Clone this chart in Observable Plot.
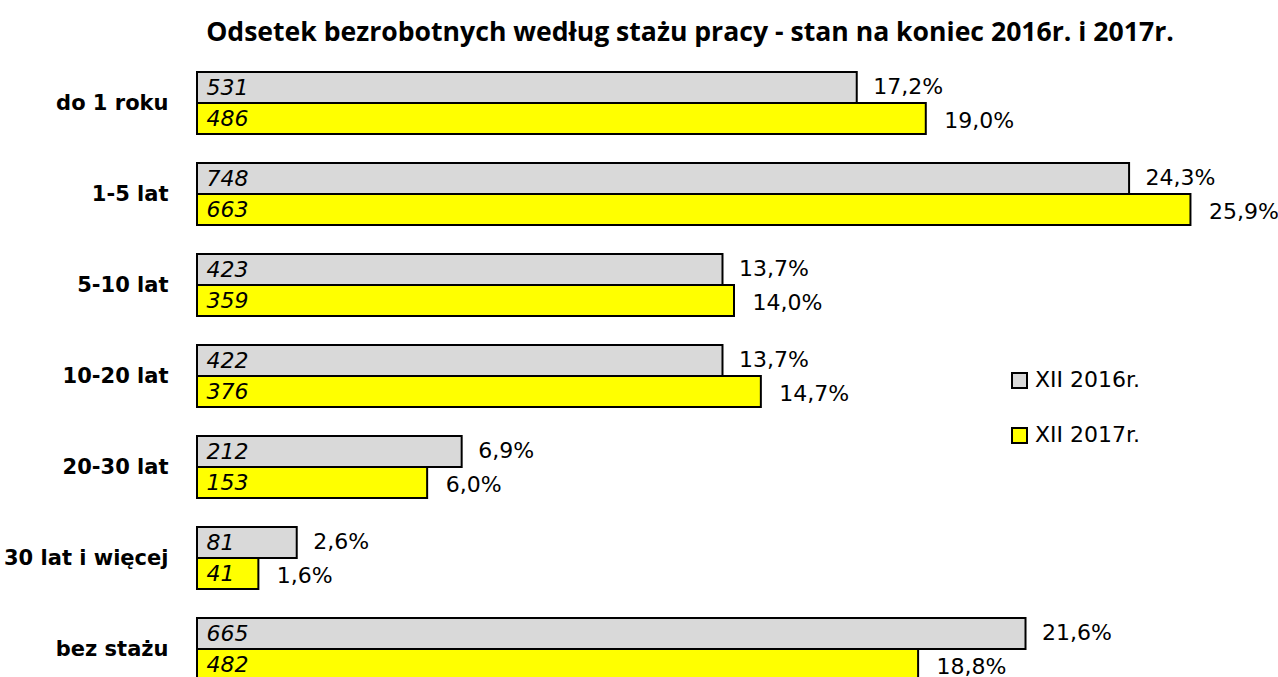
<!DOCTYPE html>
<html>
<head>
<meta charset="utf-8">
<script src="https://cdn.jsdelivr.net/npm/d3@7"></script>
<script src="https://cdn.jsdelivr.net/npm/@observablehq/plot@0.6"></script>
<style>
  html, body { margin: 0; padding: 0; background: #fff; overflow: hidden; width: 1278px; height: 677px; }
  body { font-family: "DejaVu Sans", sans-serif; position: relative; }
  #title { height: 60px; line-height: 62px; box-sizing: border-box; padding-left: 102px; text-align: center;
           font-family: "Open Sans", sans-serif; font-weight: bold; font-size: 26.6px; color: #000; white-space: nowrap; }
  .legend { position: absolute; left: 1011px; font-size: 22px; line-height: 26px; display: flex; align-items: center; }
  .legend .sw { width: 13px; height: 13px; border: 2px solid #000; margin-right: 7px; }
</style>
</head>
<body>
<div id="title">Odsetek bezrobotnych według stażu pracy - stan na koniec 2016r. i 2017r.</div>
<div id="chart"></div>
<div id="legend"></div>
<script>
const categories = ["do 1 roku", "1-5 lat", "5-10 lat", "10-20 lat", "20-30 lat", "30 lat i więcej", "bez stażu"];
const series = ["XII 2016r.", "XII 2017r."];
const pct2016 = [17.2, 24.3, 13.7, 13.7, 6.9, 2.6, 21.6];
const pct2017 = [19.0, 25.9, 14.0, 14.7, 6.0, 1.6, 18.8];
const count2016 = [531, 748, 423, 422, 212, 81, 665];
const count2017 = [486, 663, 359, 376, 153, 41, 482];
const colors = ["#d9d9d9", "#ffff00"];

const data = [];
categories.forEach((c, i) => {
  data.push({cat: c, year: series[0], pct: pct2016[i], count: count2016[i]});
  data.push({cat: c, year: series[1], pct: pct2017[i], count: count2017[i]});
});
const d2016 = data.filter(d => d.year === series[0]);
const d2017 = data.filter(d => d.year === series[1]);
const fmt = v => v.toFixed(1).replace(".", ",") + "%";
const FONT = "'DejaVu Sans', sans-serif";

const chart = Plot.plot({
  width: 1278,
  height: 620,
  marginTop: 12,
  marginBottom: 0,
  marginLeft: 197,
  marginRight: 7,
  style: {fontFamily: FONT, fontSize: "22px", color: "#000", background: "#fff"},
  x: {domain: [0, 28], axis: null},
  y: {domain: series, padding: 0, axis: null},
  fy: {domain: categories, paddingInner: 0.3187, paddingOuter: 0, label: null},
  color: {domain: series, range: colors},
  marks: [
    Plot.axisFy({anchor: "left", tickSize: 0, tickPadding: 29, fontWeight: "bold", fontSize: 21, label: null}),
    Plot.barX(data, {fy: "cat", y: "year", x: "pct", fill: "year", stroke: "#000", strokeWidth: 2}),
    Plot.text(data, {fy: "cat", y: "year", x: 0, text: d => String(d.count), textAnchor: "start", dx: 9,
                     fontStyle: "italic", fontSize: 22, fill: "#000"}),
    Plot.text(d2016, {fy: "cat", y: "year", x: "pct", text: d => fmt(d.pct), textAnchor: "start", dx: 16,
                      dy: -1, fontSize: 22, fill: "#000"}),
    Plot.text(d2017, {fy: "cat", y: "year", x: "pct", text: d => fmt(d.pct), textAnchor: "start", dx: 18,
                      dy: 2, fontSize: 22, fill: "#000"})
  ]
});
document.getElementById("chart").appendChild(chart);

const legend = document.getElementById("legend");
series.forEach((s, i) => {
  const row = document.createElement("div");
  row.className = "legend";
  row.style.top = (367 + i * 55) + "px";
  const sw = document.createElement("div");
  sw.className = "sw";
  sw.style.background = colors[i];
  const t = document.createElement("span");
  t.textContent = s;
  row.appendChild(sw);
  row.appendChild(t);
  legend.appendChild(row);
});
</script>
</body>
</html>
